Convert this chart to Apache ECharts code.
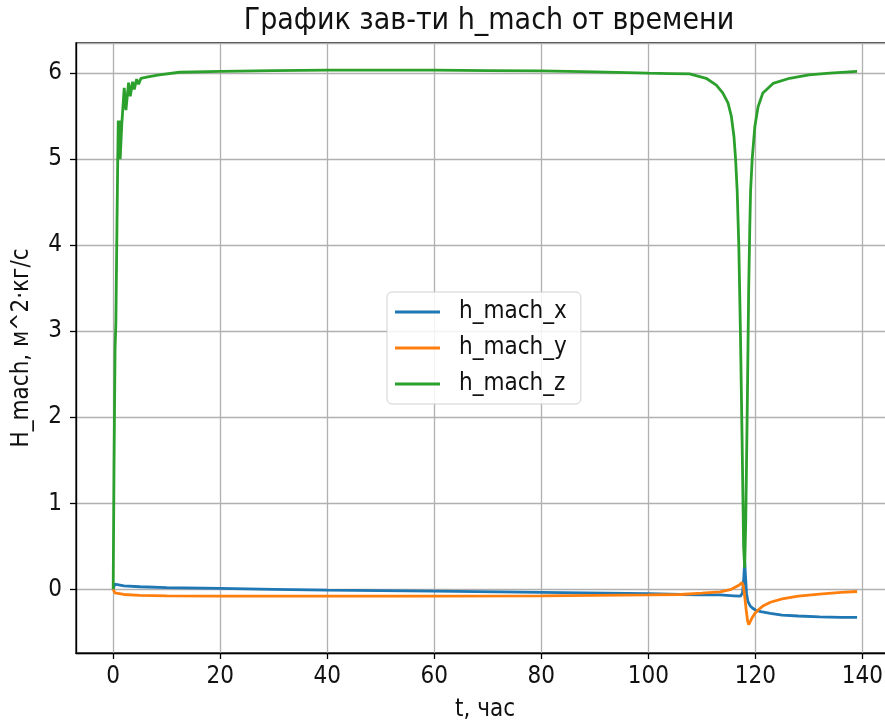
<!DOCTYPE html>
<html>
<head>
<meta charset="utf-8">
<script src="https://cdn.jsdelivr.net/npm/echarts@6/dist/echarts.min.js"></script>
<style>
html,body{margin:0;padding:0;background:#fff;}
#chart{width:885px;height:725px;}
</style>
</head>
<body>
<div id="chart"></div>
<script>
var titleText = 'График зав-ти h_mach от времени';
var xName = 't, час';
var yName = 'H_mach, м^2·кг/с';
var seriesNames = ['h_mach_x', 'h_mach_y', 'h_mach_z'];

var tX = [0, 0.3, 0.6, 2, 5, 10, 20, 30, 40, 60, 80, 100, 106, 110, 113.4, 116, 117.2, 117.6, 117.85, 118.0, 118.15, 118.35, 118.6, 119.0, 119.5, 120, 121, 122.8, 125, 128, 132, 136, 139];
var vX = [0, 0.06, 0.045, 0.04, 0.03, 0.02, 0.01, 0.0, -0.01, -0.02, -0.035, -0.05, -0.06, -0.065, -0.065, -0.075, -0.08, -0.04, 0.15, 0.32, 0.15, -0.05, -0.14, -0.19, -0.22, -0.24, -0.26, -0.28, -0.3, -0.31, -0.32, -0.325, -0.325];

var tY = [0, 0.3, 0.6, 2, 5, 10, 20, 40, 60, 80, 100, 106, 110, 113.4, 115.5, 117.0, 117.5, 117.75, 118.0, 118.3, 118.55, 118.75, 119.0, 119.4, 119.9, 120.5, 121.5, 122.8, 125, 128, 132, 136, 139];
var vY = [0, -0.04, -0.055, -0.06, -0.07, -0.075, -0.08, -0.08, -0.08, -0.075, -0.065, -0.06, -0.045, -0.03, 0.0, 0.05, 0.08, 0.04, -0.08, -0.25, -0.37, -0.41, -0.39, -0.33, -0.28, -0.24, -0.19, -0.15, -0.11, -0.08, -0.055, -0.035, -0.025];

var tZ = [0, 0.15, 0.35, 0.5, 0.7, 0.85, 0.95, 1.05, 1.15, 1.3, 1.6, 2.06, 2.38, 2.88, 3.19, 3.63, 3.94, 4.38, 4.75, 5.19, 5.5, 6.0, 6.75, 8.6, 12.4, 20, 30, 40, 50, 60, 70, 80, 90, 100, 104, 107.7, 110.8, 112.7, 113.9, 114.9, 115.5, 116.0, 116.3, 116.6, 116.9, 117.2, 117.5, 117.8, 118.0, 118.2, 118.5, 118.75, 118.95, 119.1, 119.4, 119.9, 120.5, 121.4, 123.3, 126.4, 130, 133.9, 139];
var vZ = [0, 1.4, 2.8, 3.1, 4.2, 5.0, 5.45, 5.02, 5.45, 5.0, 5.4, 5.83, 5.57, 5.89, 5.73, 5.9, 5.81, 5.93, 5.87, 5.94, 5.92, 5.95, 5.96, 5.98, 6.01, 6.02, 6.03, 6.035, 6.035, 6.035, 6.03, 6.025, 6.015, 6.0, 5.995, 5.99, 5.94, 5.86, 5.77, 5.65, 5.5, 5.26, 5.0, 4.63, 4.0, 3.0, 1.8, 0.5, 0.25, 0.8, 2.2, 3.5, 4.2, 4.63, 5.0, 5.38, 5.61, 5.77, 5.88, 5.94, 5.98, 6.0, 6.02];

var colors = ['#1f77b4', '#ff7f0e', '#2ca02c'];
var xMin = -6.95, xMax = 145.9, yMin = -0.74, yMax = 6.35;

function zip(t, v) { return t.map(function (x, i) { return [x, v[i]]; }); }

var FONT = '"DejaVu Sans Condensed", "DejaVu Sans", sans-serif';
var chart = echarts.init(document.getElementById('chart'), null, {renderer: 'canvas'});
var axisCommon = {
  axisLine: {show: true, onZero: false, lineStyle: {color: '#000', width: 1.3}},
  axisTick: {show: true, inside: false, length: 6, lineStyle: {color: '#000', width: 1.3}},
  axisLabel: {color: '#111', fontFamily: FONT, fontSize: 24, showMinLabel: false, showMaxLabel: false},
  splitLine: {show: true, lineStyle: {color: '#b0b0b0', width: 1.3}},
  nameTextStyle: {color: '#111', fontFamily: FONT, fontSize: 24}
};
var option = {
  animation: false,
  backgroundColor: '#fff',
  title: {
    text: titleText, left: 484, top: 1, textAlign: 'center',
    textStyle: {color: '#111', fontFamily: FONT, fontSize: 30, fontWeight: 'normal'}
  },
  grid: {left: 76, right: -9, top: 43, bottom: 72, containLabel: false, outerBoundsMode: 'none', show: true, borderColor: '#000', borderWidth: 1.3, backgroundColor: 'transparent'},
  legend: {
    orient: 'vertical', left: 387, top: 292,
    data: seriesNames, icon: 'rect', itemWidth: 45, itemHeight: 3, itemGap: 12,
    padding: [8, 14, 8, 8],
    borderColor: '#d0d0d0', borderWidth: 1, borderRadius: 5, backgroundColor: 'rgba(255,255,255,0.85)',
    textStyle: {color: '#111', fontFamily: FONT, fontSize: 24, padding: [0, 0, 0, 14]}
  },
  xAxis: Object.assign({}, axisCommon, {
    type: 'value', min: xMin, max: xMax, splitNumber: 8, minInterval: 20, maxInterval: 20,
    name: xName, nameLocation: 'middle', nameGap: 45,
    axisLabel: Object.assign({}, axisCommon.axisLabel, {margin: 12})
  }),
  yAxis: Object.assign({}, axisCommon, {
    type: 'value', min: yMin, max: yMax, splitNumber: 7, minInterval: 1, maxInterval: 1,
    name: yName, nameLocation: 'middle', nameGap: 42,
    axisLabel: Object.assign({}, axisCommon.axisLabel, {margin: 14})
  }),
  series: [
    {name: seriesNames[0], type: 'line', data: zip(tX, vX), showSymbol: false, lineStyle: {width: 2.8, color: colors[0]}, itemStyle: {color: colors[0]}, z: 2},
    {name: seriesNames[1], type: 'line', data: zip(tY, vY), showSymbol: false, lineStyle: {width: 2.8, color: colors[1]}, itemStyle: {color: colors[1]}, z: 3},
    {name: seriesNames[2], type: 'line', data: zip(tZ, vZ), showSymbol: false, lineStyle: {width: 2.8, color: colors[2]}, itemStyle: {color: colors[2]}, z: 4}
  ]
};
chart.setOption(option);
</script>
</body>
</html>
